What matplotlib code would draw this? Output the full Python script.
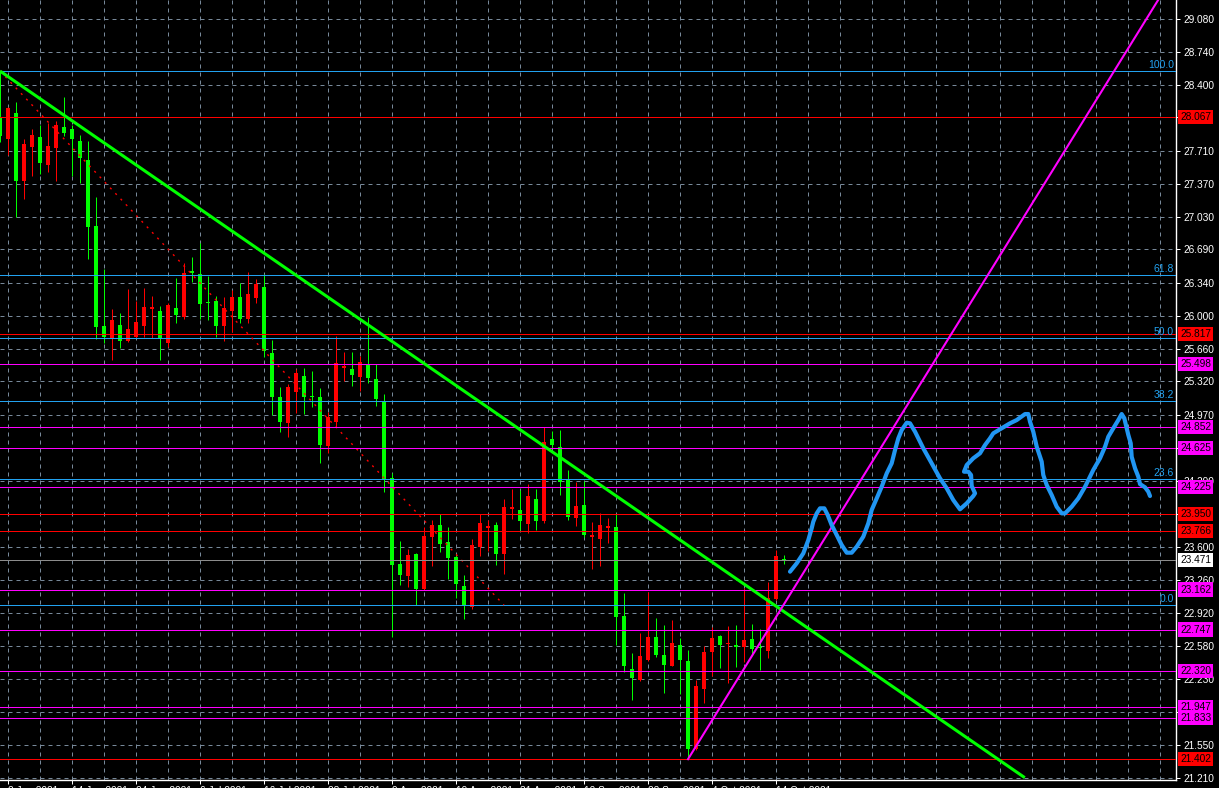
import matplotlib
matplotlib.use("Agg")
import matplotlib.pyplot as plt
import matplotlib.transforms as mtransforms

# ---- daily bars (price values) ----
opens = [28.066, 27.832, 28.102, 27.403, 27.752, 27.853, 27.565, 27.745, 27.960, 27.939,
         27.814, 27.617, 26.936, 25.898, 25.774, 25.906, 25.740, 25.784, 25.898, 26.072,
         26.051, 25.722, 26.085, 25.992, 26.466, 26.435, 26.144, 26.152, 25.898, 26.054,
         26.193, 25.965, 26.189, 26.297, 25.612, 25.156, 24.892, 25.214, 25.377, 25.169,
         25.156, 24.654, 24.903, 25.457, 25.449, 25.369, 25.491, 25.346, 25.110, 24.315,
         23.426, 23.302, 23.530, 23.164, 23.710, 23.831, 23.658, 23.502, 23.198, 22.977,
         23.606, 23.803, 23.831, 23.530, 23.997, 23.987, 23.841, 24.101, 23.872, 24.723,
         24.643, 24.298, 23.900, 24.038, 23.710, 23.686, 23.803, 23.807, 22.887, 22.334,
         22.223, 22.431, 22.672, 22.482, 22.371, 22.586, 22.420, 21.507, 22.130, 22.517,
         22.680, 22.593, 22.586, 22.569, 22.648, 22.558, 22.524, 23.060, 23.478]
highs = [28.540, 28.170, 28.216, 27.832, 27.939, 27.980, 27.998, 28.022, 28.274, 27.980,
         27.877, 27.814, 27.237, 26.483, 26.072, 26.027, 26.279, 26.155, 26.286, 26.207,
         26.103, 26.131, 26.390, 26.546, 26.608, 26.753, 26.414, 26.207, 26.193, 26.269,
         26.344, 26.455, 26.380, 26.432, 25.750, 25.259, 25.294, 25.446, 25.457, 25.432,
         25.249, 25.000, 25.792, 25.629, 25.629, 25.587, 25.986, 25.501, 25.187, 24.367,
         23.665, 23.582, 23.537, 23.813, 23.883, 23.945, 23.807, 23.520, 23.312, 23.686,
         23.945, 23.883, 23.865, 24.098, 24.201, 24.194, 24.256, 24.201, 24.851, 24.806,
         24.816, 24.402, 24.280, 24.287, 23.865, 23.952, 23.900, 23.945, 23.122, 22.500,
         22.708, 23.139, 22.863, 22.794, 22.846, 22.656, 22.534, 22.223, 22.579, 22.770,
         22.690, 22.786, 22.794, 23.174, 22.804, 22.749, 23.243, 23.572, 23.520]
lows = [27.807, 27.669, 27.023, 27.210, 27.454, 27.469, 27.496, 27.403, 27.869, 27.454,
        27.376, 26.587, 25.757, 25.716, 25.543, 25.670, 25.726, 25.775, 25.784, 25.774,
        25.543, 25.681, 25.930, 25.965, 26.355, 25.965, 25.958, 25.784, 25.740, 25.836,
        25.923, 25.923, 26.131, 25.577, 24.972, 24.799, 24.741, 24.990, 24.982, 25.058,
        24.477, 24.581, 24.851, 25.325, 25.276, 25.221, 25.307, 25.069, 24.176, 22.666,
        23.209, 23.191, 23.001, 23.157, 23.409, 23.554, 23.271, 23.077, 22.856, 22.960,
        23.509, 23.564, 23.416, 23.323, 23.893, 23.779, 23.745, 23.779, 23.855, 24.627,
        24.142, 23.883, 23.821, 23.710, 23.371, 23.409, 23.647, 22.586, 22.309, 22.016,
        22.215, 22.420, 22.465, 22.091, 22.365, 22.078, 21.402, 21.500, 21.981, 22.265,
        22.351, 22.195, 22.361, 22.413, 22.482, 22.327, 22.448, 23.050, 23.426]
closes = [27.866, 28.154, 27.403, 27.783, 27.877, 27.589, 27.763, 27.980, 27.900, 27.838,
          27.641, 26.925, 25.888, 25.784, 25.958, 25.740, 25.864, 25.937, 26.092, 26.092,
          25.757, 26.113, 26.009, 26.448, 26.448, 26.127, 26.131, 25.898, 26.085, 26.193,
          25.971, 26.227, 26.331, 25.636, 25.162, 24.903, 25.259, 25.405, 25.162, 25.162,
          24.661, 24.954, 25.508, 25.480, 25.387, 25.522, 25.359, 25.135, 24.305, 23.416,
          23.312, 23.520, 23.164, 23.717, 23.831, 23.634, 23.492, 23.219, 23.001, 23.624,
          23.855, 23.821, 23.530, 24.018, 24.018, 23.872, 24.132, 23.872, 24.695, 24.661,
          24.280, 23.917, 24.028, 23.727, 23.727, 23.831, 23.821, 22.873, 22.371, 22.247,
          22.472, 22.672, 22.482, 22.379, 22.604, 22.431, 21.507, 22.161, 22.517, 22.662,
          22.586, 22.610, 22.569, 22.638, 22.545, 22.552, 23.071, 23.509, 23.471]

date_labels = ["2 Jun 2021", "14 Jun 2021", "24 Jun 2021", "6 Jul 2021", "16 Jul 2021",
               "28 Jul 2021", "9 Aug 2021", "19 Aug 2021", "31 Aug 2021", "10 Sep 2021",
               "22 Sep 2021", "4 Oct 2021", "14 Oct 2021"]

price_ticks = [21.21, 21.55, 21.89, 22.23, 22.58, 22.92, 23.26, 23.60, 23.95, 24.29, 24.63, 24.97,
               25.32, 25.66, 26.00, 26.34, 26.69, 27.03, 27.37, 27.71, 28.06, 28.40, 28.74, 29.08]
# tick labels that sit fully under a price box in the original
covered_ticks = [21.89, 23.95, 24.63, 28.06]

# horizontal levels
red_levels = [28.067, 25.817, 23.950, 23.766, 21.402]
magenta_levels = [25.498, 24.852, 24.625, 24.225, 23.162, 22.747, 22.320, 21.947, 21.833]
bid = 23.471

# fibonacci retracement anchors (bar, price)
fib_start = (0, 28.54)
fib_end = (63, 23.00)
fib_levels = [0.0, 23.6, 38.2, 50.0, 61.8, 100.0]

# trend lines (bar, price) pairs
green_line = [(0, 28.54), (128.1, 21.21)]
magenta_line = [(86, 21.402), (100, 23.278)]

# hand drawn projection
curve_x = [98.75, 99.59, 100.41, 101.04, 101.46, 101.66, 102.09, 102.5, 103.04, 103.46,
           103.96, 104.59, 105.21, 105.84, 106.46, 107.09, 107.91, 108.54, 108.96, 109.59,
           110.21, 110.84, 111.46, 111.88, 112.29, 112.71, 113.34, 113.75, 114.38, 115.41,
           116.46, 117.5, 118.34, 119.16, 120.0, 120.84, 121.66, 121.88, 121.46, 121.38,
           121.04, 120.5, 120.84, 121.66, 122.5, 123.13, 123.75, 124.16, 125.0, 126.25,
           127.09, 128.13, 128.54, 128.75, 129.16, 129.59, 130.21, 130.41, 130.84, 131.46,
           132.09, 132.71, 133.13, 133.96, 134.79, 135.63, 136.66, 137.5, 138.13, 138.54,
           139.16, 139.79, 140.21, 140.54, 141.04, 141.34, 141.46, 141.88, 142.29, 142.5,
           143.13, 143.54, 143.75]
curve_y = [23.347, 23.434, 23.537, 23.675, 23.797, 23.865, 23.952, 24.004, 24.004, 23.935,
           23.831, 23.727, 23.624, 23.544, 23.544, 23.606, 23.710, 23.849, 23.987, 24.108,
           24.228, 24.367, 24.471, 24.609, 24.730, 24.816, 24.892, 24.886, 24.799, 24.627,
           24.471, 24.315, 24.212, 24.090, 23.994, 24.056, 24.132, 24.160, 24.236, 24.350,
           24.384, 24.384, 24.453, 24.523, 24.575, 24.661, 24.730, 24.782, 24.824, 24.886,
           24.920, 24.982, 24.982, 24.903, 24.799, 24.643, 24.488, 24.350, 24.246, 24.142,
           24.021, 23.952, 23.952, 24.021, 24.108, 24.228, 24.402, 24.523, 24.643, 24.747,
           24.834, 24.920, 24.982, 24.938, 24.765, 24.679, 24.539, 24.419, 24.332, 24.256,
           24.222, 24.176, 24.132]

FONT = "Liberation Sans"
GRID = "#778899"
FIB = "#22A2F0"
PX = 0.72  # one pixel in points at 100 dpi

fig = plt.figure(figsize=(12.19, 7.88), dpi=100, facecolor="black")
ax = fig.add_axes([0, 8 / 788, 1176 / 1219, 780 / 788], facecolor="black")
ax.set_xlim(0, 147)
ax.set_ylim(21.186, 29.277)

# grid
ax.set_yticks(price_ticks)
ax.set_yticklabels(["" if t in covered_ticks else "%.3f" % t for t in price_ticks])
major_x = list(range(1, 98, 8))
ax.set_xticks(major_x)
ax.set_xticklabels(date_labels)
ax.set_xticks(list(range(1, 147, 4)), minor=True)
ax.grid(True, which="both", color=GRID, linestyle=(0, (4, 4)), linewidth=PX, snap=True)
ax.set_axisbelow(True)

ax.yaxis.tick_right()
ax.tick_params(axis="y", colors="white", labelsize=7.3, length=3, width=PX, pad=2)
ax.tick_params(axis="x", which="major", colors="white", labelsize=7.3, length=3, width=PX, pad=1)
ax.tick_params(axis="x", which="minor", length=0)
for lab in ax.get_xticklabels():
    lab.set_horizontalalignment("left")
    lab.set_fontfamily(FONT)
for lab in ax.get_yticklabels():
    lab.set_fontfamily(FONT)
for s in ["left", "top"]:
    ax.spines[s].set_visible(False)
for s in ["right", "bottom"]:
    ax.spines[s].set_color("white")
    ax.spines[s].set_linewidth(1)

# candles
xs = list(range(len(opens)))
cols = ["#FF0000" if c > o else "#00FF00" for o, c in zip(opens, closes)]
ax.vlines(xs, lows, highs, colors=cols, linewidth=PX, snap=True, zorder=3)
bottoms = [min(o, c) for o, c in zip(opens, closes)]
heights = [max(abs(c - o), 0.011) for o, c in zip(opens, closes)]
ax.bar(xs, heights, bottom=bottoms, width=0.62, color=cols, linewidth=0, zorder=3)

# fibonacci levels
trans_r = mtransforms.blended_transform_factory(ax.transAxes, ax.transData)
lo, hi = fib_end[1], fib_start[1]
for lv in fib_levels:
    p = lo + (hi - lo) * lv / 100.0
    ax.axhline(p, color=FIB, linewidth=PX, snap=True, zorder=4)
    ax.text(0.9983, p + 0.014, "%.1f" % lv, transform=trans_r, ha="right", va="bottom",
            color=FIB, fontsize=7.5, family=FONT, zorder=6)
ax.plot([fib_start[0], fib_end[0]], [fib_start[1], fib_end[1]], color="#FF0000",
        linestyle=(0, (1.5, 4)), linewidth=1.0, zorder=4)

# horizontal lines
for p in red_levels:
    ax.axhline(p, color="#FF0000", linewidth=PX, snap=True, zorder=4)
for p in magenta_levels:
    ax.axhline(p, color="#FF00FF", linewidth=PX, snap=True, zorder=4)
ax.axhline(bid, color="#8C8C8C", linewidth=PX, snap=True, zorder=4)

# trend lines (extended to the right)
(gx0, gy0), (gx1, gy1) = green_line
ax.plot([gx0, gx1], [gy0, gy1], color="#00FF00", linewidth=2.2, zorder=5, solid_capstyle="butt")
(mx0, my0), (mx1, my1) = magenta_line
slope = (my1 - my0) / (mx1 - mx0)
ax.plot([mx0, 150], [my0, my0 + slope * (150 - mx0)], color="#FF00FF", linewidth=1.5, zorder=5)

# projection curve
ax.plot(curve_x, curve_y, color="#2196F3", linewidth=3, zorder=6,
        solid_capstyle="round", solid_joinstyle="round")

# price labels on the axis
def price_box(p, fc):
    ax.text(1.0035, p, "%.3f" % p, transform=trans_r, ha="left", va="center", fontsize=7.3,
            family=FONT, color="black", zorder=10, clip_on=False,
            bbox=dict(boxstyle="square,pad=0.2", fc=fc, ec="none"))

for p in red_levels:
    price_box(p, "#FF0000")
for p in magenta_levels:
    price_box(p, "#FF00FF")
price_box(bid, "white")

fig.savefig("out.png", dpi=100, facecolor="black")
